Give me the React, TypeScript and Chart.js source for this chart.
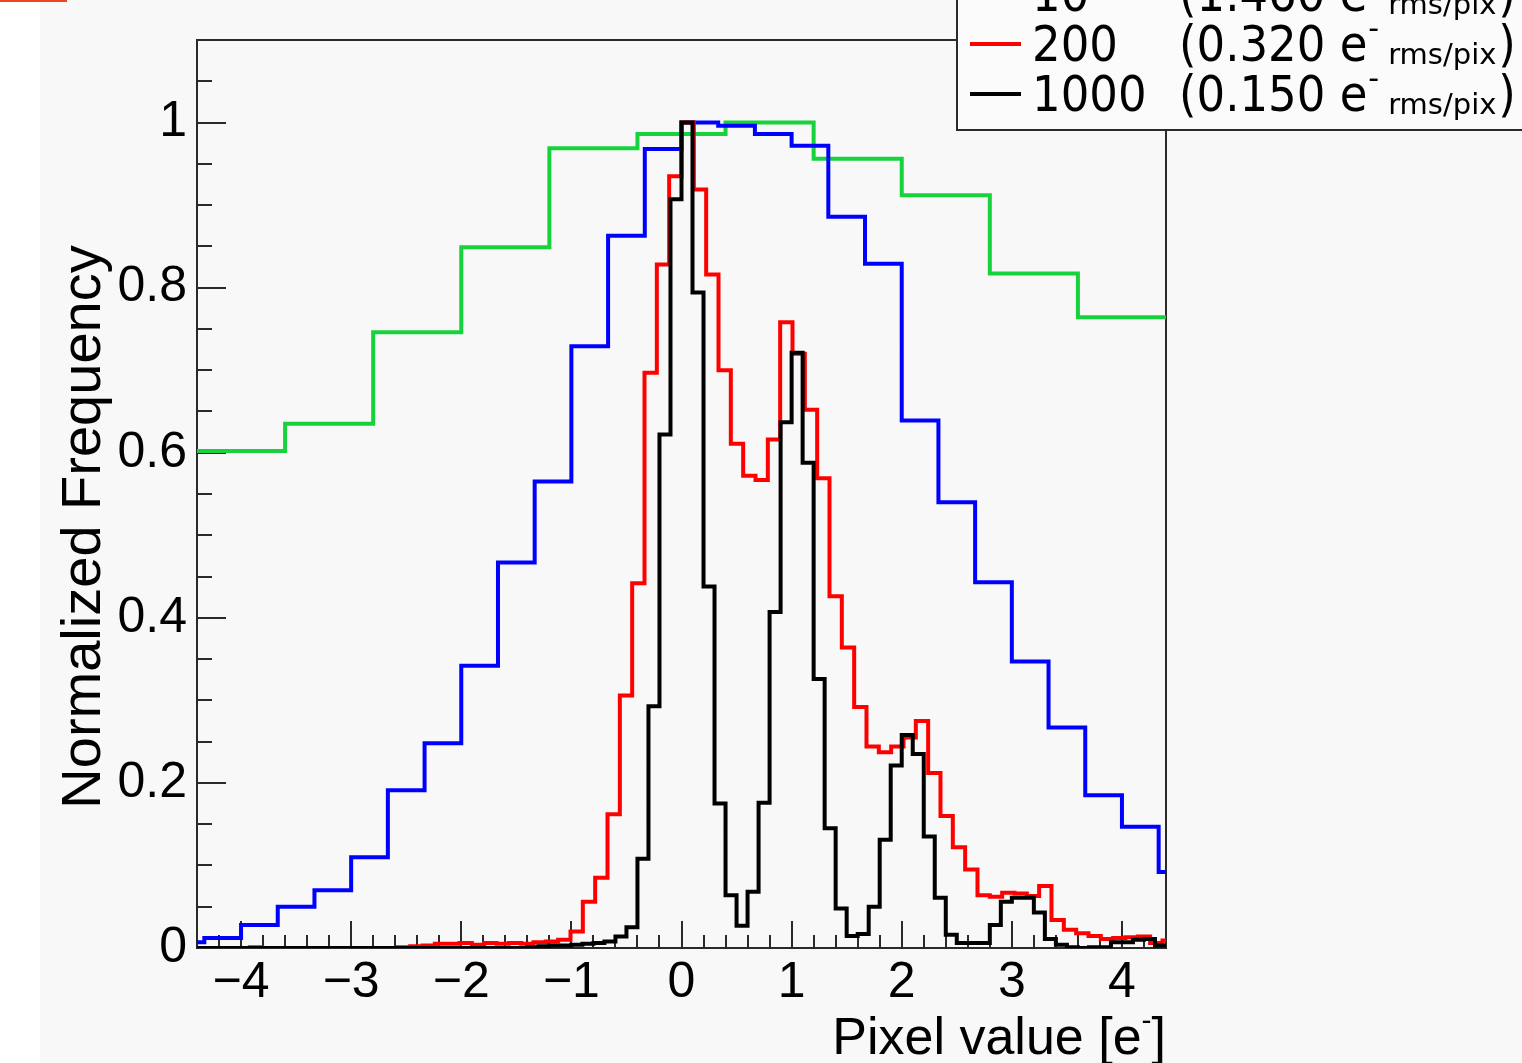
import React, { useEffect, useRef } from "react";
import { Chart, registerables } from "chart.js";

Chart.register(...registerables);

// ---------------- data ----------------
const xAxisRange = [-4.4, 4.4];
const yAxisRange = [0, 1.1];
const xTickValues = [-4, -3, -2, -1, 0, 1, 2, 3, 4];
const yTickValues = [0, 0.2, 0.4, 0.6, 0.8, 1];

const seriesNames = ["1", "10", "200", "1000"];
const seriesNoise = ["4.600", "1.460", "0.320", "0.150"];
const seriesColors = ["#17d23c", "#0000ff", "#ff0000", "#000000"];

// histogram binning (lower edge of first bin, bin width) in e-
const greenBinStart = -4.4;
const greenBinWidth = 0.8;
const greenValues = [0.602, 0.635, 0.746, 0.849, 0.969, 0.986, 1.0, 0.956, 0.912, 0.817, 0.764];

const blueBinStart = -4.66667;
const blueBinWidth = 0.333333;
const blueValues = [
  0.007, 0.012, 0.028, 0.05, 0.07, 0.11, 0.191, 0.248, 0.342, 0.467,
  0.565, 0.729, 0.863, 0.968, 1.0, 0.996, 0.986, 0.972, 0.886, 0.829,
  0.639, 0.54, 0.443, 0.347, 0.267, 0.185, 0.147, 0.092,
];

const redBinStart = -4.48;
const redBinWidth = 0.112;
const redValues = [
  0, 0, 0, 0, 0, 0.001, 0, 0, 0, 0,
  0, 0, 0, 0, 0, 0, 0, 0.001, 0.002, 0.003,
  0.005, 0.005, 0.006, 0.004, 0.006, 0.005, 0.006, 0.005, 0.007, 0.008,
  0.01, 0.02, 0.056, 0.085, 0.162, 0.306, 0.442, 0.697, 0.828, 0.935,
  1.0, 0.919, 0.816, 0.7, 0.611, 0.572, 0.567, 0.616, 0.758, 0.72,
  0.652, 0.569, 0.426, 0.364, 0.292, 0.244, 0.237, 0.244, 0.255, 0.275,
  0.212, 0.16, 0.122, 0.095, 0.064, 0.062, 0.067, 0.066, 0.063, 0.075,
  0.034, 0.022, 0.018, 0.0145, 0.011, 0.012, 0.013, 0.014, 0.006, 0.009,
];

const blackBinStart = -4.4;
const blackBinWidth = 0.1;
const blackValues = [
  0, 0, 0, 0, 0, 0, 0, 0, 0, 0,
  0, 0, 0, 0, 0, 0, 0, 0, 0, 0,
  0, 0, 0, 0, 0, 0, 0, 0, 0, 0,
  0.001, 0.002, 0.003, 0.003, 0.004, 0.005, 0.006, 0.008, 0.014, 0.025,
  0.108, 0.293, 0.622, 0.907, 1.0, 0.794, 0.438, 0.175, 0.064, 0.027,
  0.068, 0.176, 0.407, 0.637, 0.721, 0.588, 0.326, 0.145, 0.048, 0.0145,
  0.017, 0.05, 0.131, 0.221, 0.258, 0.235, 0.135, 0.061, 0.016, 0.006,
  0.006, 0.006, 0.028, 0.056, 0.061, 0.061, 0.043, 0.011, 0.004, 0.001,
  0, 0.001, 0.001, 0.007, 0.007, 0.01, 0.011, 0.003,
];

const xTitle = "Pixel value [e";
const yTitle = "Normalized Frequency";

// ---------------- helpers ----------------
function histPoints(start: number, width: number, values: number[]) {
  const pts = values.map((v, i) => ({ x: start + i * width, y: v }));
  pts.push({ x: start + values.length * width, y: values[values.length - 1] });
  return pts;
}

function fmtX(v: number) {
  return v < 0 ? "\u2212" + Math.abs(v) : String(v);
}
function fmtY(v: number) {
  return String(Number(v.toFixed(1)));
}

const SANS = '"Liberation Sans", Arial, Helvetica, sans-serif';
const DEJAVU = '"DejaVu Sans", sans-serif';

function drawText(
  ctx: CanvasRenderingContext2D,
  text: string,
  x: number,
  y: number,
  font: string,
  sx = 1,
  align: CanvasTextAlign = "left"
) {
  ctx.save();
  ctx.font = font;
  ctx.translate(x, y);
  ctx.scale(sx, 1);
  ctx.textAlign = align;
  ctx.textBaseline = "alphabetic";
  ctx.fillText(text, 0, 0);
  const w = ctx.measureText(text).width * sx;
  ctx.restore();
  return w;
}

const rootStyle = {
  id: "rootStyle",
  beforeDraw(chart: any) {
    const { ctx, width, height } = chart;
    ctx.save();
    ctx.fillStyle = "#f8f8f8";
    ctx.fillRect(0, 0, width, height);
    ctx.fillStyle = "#ffffff";
    ctx.fillRect(0, 0, 40, height);
    ctx.fillStyle = "#ee4422";
    ctx.fillRect(0, 0, 67, 2);
    ctx.restore();
  },
  beforeDatasetsDraw(chart: any) {
    const { ctx, chartArea: a, scales } = chart;
    const xs = scales.x;
    const ys = scales.y;
    ctx.save();
    ctx.strokeStyle = "#2a2a2a";
    ctx.lineWidth = 2;
    ctx.beginPath();
    for (let k = -22; k <= 22; k++) {
      const v = k * 0.2;
      const px = Math.round(xs.getPixelForValue(v));
      const len = k % 5 === 0 ? 27 : 13;
      ctx.moveTo(px, a.bottom);
      ctx.lineTo(px, a.bottom - len);
    }
    for (let k = 0; k <= 22; k++) {
      const v = k * 0.05;
      const py = Math.round(ys.getPixelForValue(v));
      const len = k % 4 === 0 ? 29 : 15;
      ctx.moveTo(a.left, py);
      ctx.lineTo(a.left + len, py);
    }
    ctx.stroke();
    ctx.strokeRect(a.left, a.top, a.right - a.left, a.bottom - a.top);
    ctx.restore();
  },
  afterDraw(chart: any) {
    const { ctx, chartArea: a } = chart;
    ctx.save();
    ctx.fillStyle = "#000";

    // x title, right aligned to frame
    const fMain = "52px " + SANS;
    const fSup = "30px " + SANS;
    ctx.font = fMain;
    const wMain = ctx.measureText(xTitle).width;
    const wClose = ctx.measureText("]").width;
    ctx.font = fSup;
    const wSup = ctx.measureText("-").width;
    const startX = a.right - (wMain + wSup + wClose);
    drawText(ctx, xTitle, startX, 1054, fMain);
    drawText(ctx, "-", startX + wMain, 1054 - 24, fSup);
    drawText(ctx, "]", startX + wMain + wSup, 1054, fMain);

    // y title, rotated
    ctx.save();
    ctx.translate(100, 527);
    ctx.rotate(-Math.PI / 2);
    ctx.font = "56px " + SANS;
    ctx.textAlign = "center";
    ctx.textBaseline = "alphabetic";
    ctx.fillText(yTitle, 0, 0);
    ctx.restore();

    // legend
    ctx.fillStyle = "#fbfbfb";
    ctx.fillRect(957, -250, 620, 380);
    ctx.strokeStyle = "#2a2a2a";
    ctx.lineWidth = 2;
    ctx.strokeRect(957, -250, 620, 380);

    const baselines = [-39, 11, 61, 111];
    const lf = "50px " + DEJAVU;
    const sf = "29px " + DEJAVU;
    for (let i = 0; i < seriesNames.length; i++) {
      const b = baselines[i];
      ctx.strokeStyle = seriesColors[i];
      ctx.lineWidth = 4;
      ctx.beginPath();
      ctx.moveTo(970, b - 17);
      ctx.lineTo(1021, b - 17);
      ctx.stroke();
      ctx.fillStyle = "#000";
      drawText(ctx, seriesNames[i], 1032, b, lf, 0.9);
      const w1 = drawText(ctx, "(" + seriesNoise[i] + " e", 1179, b, lf, 0.9);
      const supX = 1179 + w1 + 1;
      const w2 = drawText(ctx, "-", supX, b - 23, "30px " + DEJAVU, 1);
      const subX = supX + w2 + 9;
      const w3 = drawText(ctx, "rms/pix", subX, b + 3, sf, 1);
      drawText(ctx, ")", subX + w3 + 2, b, lf, 0.9);
    }
    ctx.restore();
  },
};

export default function App() {
  const ref = useRef<HTMLCanvasElement>(null);
  useEffect(() => {
    const canvas = ref.current;
    if (!canvas) return;
    const mk = (i: number, start: number, width: number, values: number[], order: number) => ({
      label: seriesNames[i],
      data: histPoints(start, width, values),
      borderColor: seriesColors[i],
      backgroundColor: seriesColors[i],
      borderWidth: 4,
      stepped: "before" as const,
      pointRadius: 0,
      pointHoverRadius: 0,
      fill: false,
      tension: 0,
      borderJoinStyle: "miter" as const,
      borderCapStyle: "butt" as const,
      order,
    });
    const chart = new Chart(canvas, {
      type: "line",
      data: {
        datasets: [
          mk(0, greenBinStart, greenBinWidth, greenValues, 4),
          mk(1, blueBinStart, blueBinWidth, blueValues, 3),
          mk(2, redBinStart, redBinWidth, redValues, 2),
          mk(3, blackBinStart, blackBinWidth, blackValues, 1),
        ] as any,
      },
      options: {
        animation: false,
        responsive: false,
        devicePixelRatio: 1,
        events: [],
        layout: { padding: { top: 38, right: 356, left: 0, bottom: 0 } },
        plugins: { legend: { display: false }, tooltip: { enabled: false }, title: { display: false } },
        scales: {
          x: {
            type: "linear",
            min: xAxisRange[0],
            max: xAxisRange[1],
            afterFit: (s: any) => {
              s.height = 115;
            },
            afterBuildTicks: (s: any) => {
              s.ticks = xTickValues.map((v) => ({ value: v }));
            },
            grid: { display: false, drawTicks: false },
            border: { display: false },
            ticks: {
              padding: 5,
              color: "#000",
              font: { family: SANS, size: 50 },
              maxRotation: 0,
              autoSkip: false,
              callback: (v: any) => fmtX(Number(v)),
            },
          },
          y: {
            type: "linear",
            min: yAxisRange[0],
            max: yAxisRange[1],
            afterFit: (s: any) => {
              s.width = 197;
            },
            afterBuildTicks: (s: any) => {
              s.ticks = yTickValues.map((v) => ({ value: v }));
            },
            grid: { display: false, drawTicks: false },
            border: { display: false },
            ticks: {
              padding: 10,
              color: "#000",
              font: { family: SANS, size: 50 },
              autoSkip: false,
              callback: (v: any) => fmtY(Number(v)),
            },
          },
        },
      } as any,
      plugins: [rootStyle as any],
    });
    return () => chart.destroy();
  }, []);
  return (
    <div style={{ position: "absolute", left: 0, top: 0, width: 1522, height: 1063 }}>
      <canvas ref={ref} width={1522} height={1063} style={{ display: "block" }} />
    </div>
  );
}
